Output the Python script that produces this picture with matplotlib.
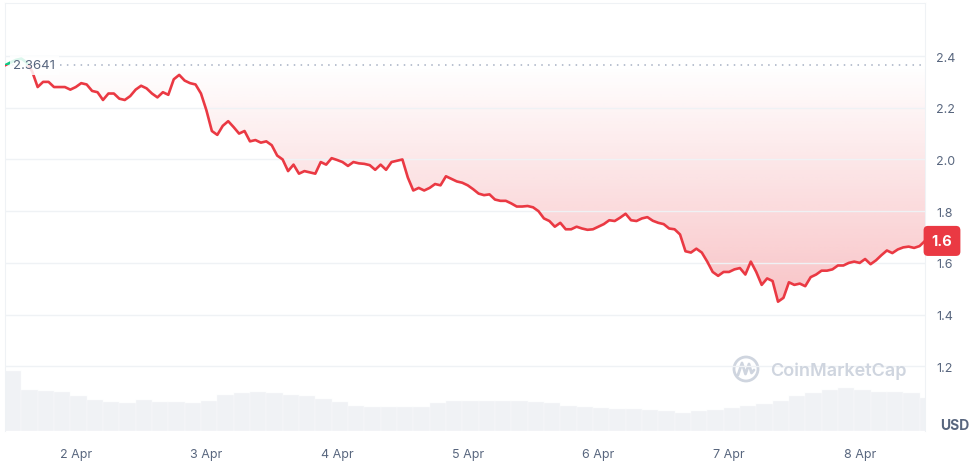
import datetime as dt

import numpy as np
import matplotlib
matplotlib.use("Agg")
import matplotlib.pyplot as plt
import matplotlib.dates as mdates
from matplotlib.patches import Polygon, Rectangle, Circle
from matplotlib.path import Path
from matplotlib.patches import PathPatch
from matplotlib.transforms import blended_transform_factory

# hourly price (USD), starting 1 Apr 11:00
start = dt.datetime(2025, 4, 1, 11, 0)
price = [
    2.364, 2.375, 2.385, 2.39, 2.375, 2.34, 2.28, 2.30, 2.30, 2.28,
    2.28, 2.28, 2.27, 2.28, 2.295, 2.29, 2.265, 2.26, 2.23, 2.255,
    2.255, 2.235, 2.23, 2.245, 2.27, 2.285, 2.275, 2.255, 2.24, 2.26,
    2.25, 2.31, 2.327, 2.305, 2.295, 2.29, 2.255, 2.19, 2.11, 2.095,
    2.13, 2.148, 2.125, 2.10, 2.11, 2.07, 2.075, 2.065, 2.07, 2.055,
    2.015, 2.0, 1.955, 1.98, 1.945, 1.955, 1.95, 1.945, 1.99, 1.98,
    2.005, 1.998, 1.99, 1.975, 1.99, 1.985, 1.983, 1.978, 1.96, 1.98,
    1.96, 1.99, 1.995, 2.0, 1.93, 1.88, 1.89, 1.88, 1.89, 1.905,
    1.90, 1.935, 1.925, 1.915, 1.91, 1.90, 1.885, 1.868, 1.862, 1.865,
    1.845, 1.84, 1.84, 1.83, 1.818, 1.818, 1.82, 1.815, 1.80, 1.772,
    1.762, 1.74, 1.755, 1.73, 1.73, 1.74, 1.733, 1.728, 1.73, 1.74,
    1.75, 1.765, 1.762, 1.775, 1.79, 1.765, 1.762, 1.772, 1.777, 1.763,
    1.755, 1.75, 1.733, 1.73, 1.71, 1.645, 1.64, 1.655, 1.64, 1.605,
    1.565, 1.55, 1.565, 1.565, 1.575, 1.58, 1.555, 1.605, 1.565, 1.515,
    1.54, 1.53, 1.45, 1.465, 1.525, 1.515, 1.52, 1.51, 1.545, 1.555,
    1.57, 1.57, 1.575, 1.59, 1.59, 1.60, 1.605, 1.60, 1.615, 1.595,
    1.61, 1.63, 1.648, 1.638, 1.652, 1.66, 1.663, 1.658, 1.665, 1.685,
]
open_price = 2.3641

# volume in 3-hour buckets (relative units)
volume = [
    60, 41, 40, 39, 35, 31, 29, 28, 31, 29,
    29, 28, 30, 36, 38, 39, 38, 36, 35, 32,
    29, 25, 24, 24, 24, 24, 28, 30, 30, 30,
    30, 30, 29, 28, 25, 24, 23, 22, 22, 21,
    20, 18, 20, 21, 23, 25, 27, 30, 35, 38,
    41, 43, 41, 39, 39, 38, 33,
]

yticks = [1.2, 1.4, 1.6, 1.8, 2.0, 2.2, 2.4]

red = "#ea3943"
green = "#16c784"
grey = "#58667e"
grid_c = "#eff2f5"

plt.rcParams["font.family"] = ["Inter", "DejaVu Sans"]

t = mdates.date2num([start + dt.timedelta(hours=i) for i in range(len(price))])
tv = mdates.date2num([start + dt.timedelta(hours=3 * j) for j in range(len(volume))])
p = np.array(price)

fig = plt.figure(figsize=(9.79, 4.64), dpi=100)
ax = fig.add_axes([5 / 979, 32 / 464, 920 / 979, 428 / 464])
axv = fig.add_axes(ax.get_position(), sharex=ax)
axv.set_zorder(0)
ax.set_zorder(1)
ax.patch.set_visible(False)

# volume
axv.bar(tv, volume, width=3 / 24, align="edge", color="#f0f2f5",
        edgecolor="#fafbfc", linewidth=0.3)
axv.set_ylim(0, max(volume) * 428 / 60)
axv.axis("off")

ax.set_xlim(t[0], t[-1])
ax.set_ylim(0.95, 2.605)

# gradient fill between price and open level
below = np.minimum(p, open_price)
verts = np.vstack([np.column_stack([t, below]),
                   np.column_stack([t[::-1], np.full(len(t), open_price)])])
clip = Polygon(verts, closed=True, transform=ax.transData, facecolor="none",
               edgecolor="none")
ax.add_patch(clip)
grad = np.zeros((100, 2, 4))
rgb = matplotlib.colors.to_rgb(red)
grad[..., 0], grad[..., 1], grad[..., 2] = rgb
grad[..., 3] = np.linspace(0.3, 0.0, 100)[:, None]
im = ax.imshow(grad, extent=[t[0], t[-1], p.min(), open_price], origin="lower",
               aspect="auto", interpolation="bilinear", zorder=1)
im.set_clip_path(clip)

ax.fill_between(t, open_price, p, where=p > open_price, interpolate=True,
                color=green, alpha=0.08, linewidth=0, zorder=1)

# price line: red below open, green above
line_r, = ax.plot(t, p, color=red, lw=1.9, zorder=3, solid_joinstyle="round")
line_g, = ax.plot(t, p, color=green, lw=1.9, zorder=3.1)
rect_lo = Rectangle((t[0], 0), t[-1] - t[0], open_price, transform=ax.transData)
rect_hi = Rectangle((t[0], open_price), t[-1] - t[0], 5, transform=ax.transData)
line_r.set_clip_path(rect_lo)
line_g.set_clip_path(rect_hi)

ax.axhline(open_price, color="#a6b0c3", lw=1.1, ls=(0, (1, 3.5)), zorder=2)
ax.text(0.009, open_price, f"{open_price:.4f}", transform=blended_transform_factory(ax.transAxes, ax.transData),
        ha="left", va="center", color=grey, fontsize=9.5, zorder=5,
        bbox=dict(boxstyle="square,pad=0.25", fc="white", ec="none", alpha=0.85))

# axes styling
ax.yaxis.tick_right()
ax.set_yticks(yticks)
ax.yaxis.set_major_formatter(matplotlib.ticker.FuncFormatter(lambda v, _: f"{v:.1f}"))
ax.grid(axis="y", color=grid_c, lw=1)
ax.tick_params(axis="y", length=0, pad=8, labelsize=9, labelcolor=grey)
ax.tick_params(axis="x", length=0, pad=12, labelsize=9, labelcolor=grey)
ax.xaxis.set_major_locator(mdates.DayLocator())
ax.xaxis.set_major_formatter(mdates.DateFormatter("%-d %b"))
for s in ["left", "top", "right"]:
    ax.spines[s].set_color(grid_c)
ax.spines["bottom"].set_visible(False)

# last price badge
last = np.floor(p[-1] * 10) / 10
ax.annotate(f"{last:.1f}", xy=(1, p[-1]), xycoords=blended_transform_factory(ax.transAxes, ax.transData),
            xytext=(17, 0), textcoords="offset pixels", ha="center", va="center",
            color="white", fontsize=10.5, fontweight="bold", zorder=6,
            bbox=dict(boxstyle="round,pad=0.55,rounding_size=0.3", fc=red, ec="none"),
            annotation_clip=False)

fig.text(940 / 979, 1 - 426 / 464, "USD", color=grey, fontsize=10, fontweight="bold",
         va="center", ha="left")

# watermark
wm = "#cfd5df"
fig.text(770 / 979, 1 - 371 / 464, "CoinMarketCap", color=wm, fontsize=13,
         fontweight="semibold", va="center", ha="left")
fig.add_artist(Circle((7.46, 0.94), 0.12, transform=fig.dpi_scale_trans,
                      fill=False, ec=wm, lw=2))
m = Path([(7.38, 0.88), (7.42, 1.0), (7.455, 0.89), (7.49, 0.99), (7.515, 0.90), (7.54, 0.93)],
         [Path.MOVETO] + [Path.LINETO] * 5)
fig.add_artist(PathPatch(m, transform=fig.dpi_scale_trans, fill=False, ec=wm, lw=2,
                         joinstyle="round", capstyle="round"))

fig.savefig("out.png", dpi=100)
